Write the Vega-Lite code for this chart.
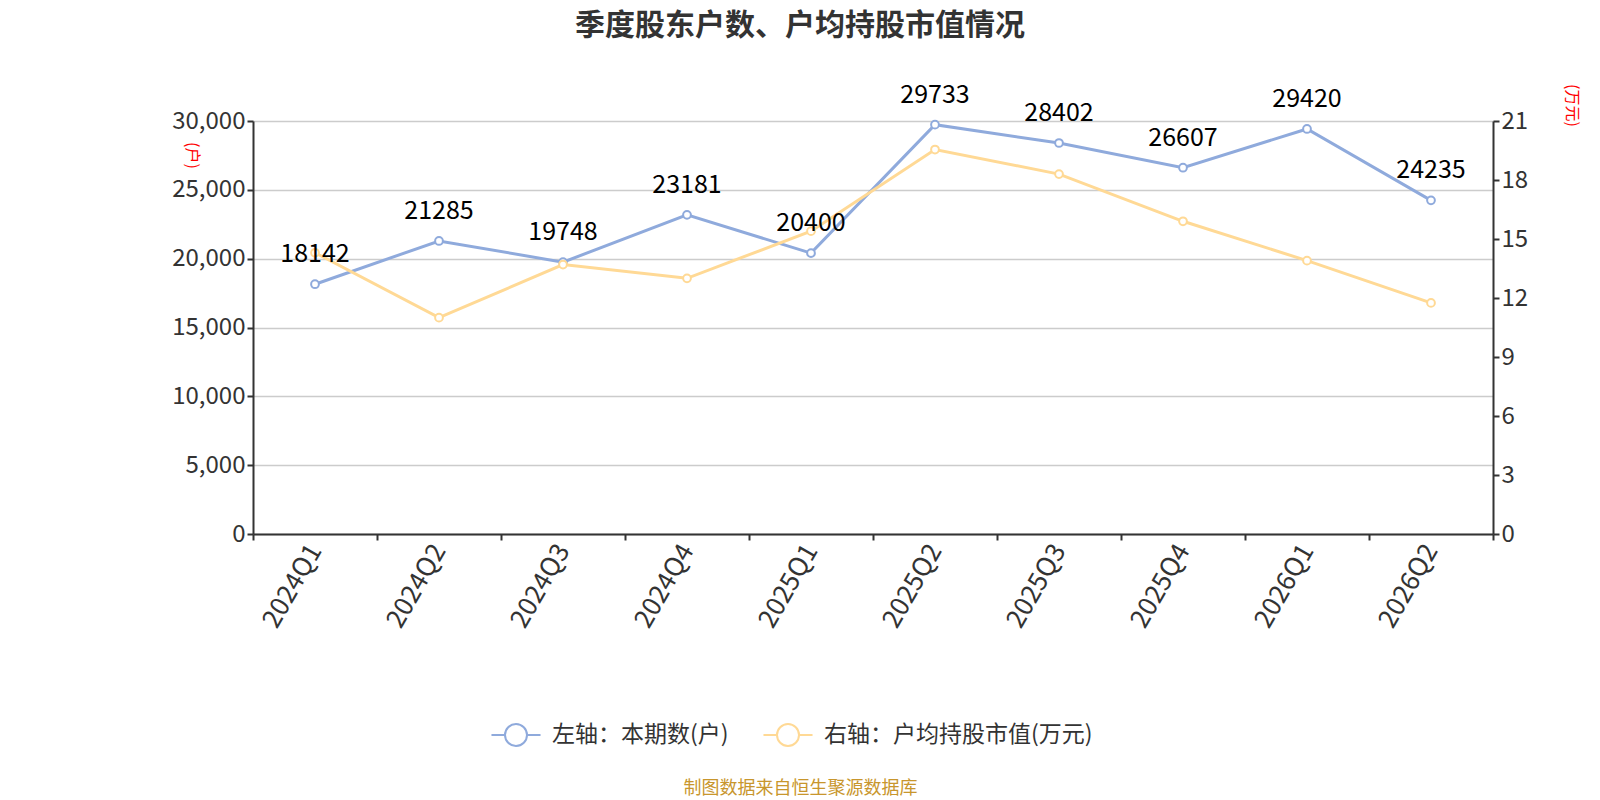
{
  "$schema": "https://vega.github.io/schema/vega-lite/v6.json",
  "width": 1240,
  "height": 413,
  "autosize": {"type": "none"},
  "padding": {"left": 253, "top": 121, "right": 107, "bottom": 266},
  "background": "white",
  "config": {
    "font": "Noto Sans CJK SC",
    "view": {"stroke": null},
    "axis": {
      "labelFont": "Noto Sans CJK SC",
      "labelFontSize": 24,
      "labelColor": "#333333",
      "domainColor": "#333333",
      "domainWidth": 2,
      "tickColor": "#333333",
      "tickWidth": 2,
      "tickSize": 6,
      "gridColor": "#cccccc",
      "gridWidth": 1.5
    }
  },
  "title": {
    "text": "季度股东户数、户均持股市值情况",
    "fontSize": 30,
    "fontWeight": "bold",
    "color": "#333333",
    "anchor": "middle",
    "dx": -73,
    "offset": 42
  },
  "data": {
    "values": [
      {"quarter": "2024Q1", "holders": 18142, "avgValue": 14.3},
      {"quarter": "2024Q2", "holders": 21285, "avgValue": 11.0},
      {"quarter": "2024Q3", "holders": 19748, "avgValue": 13.7},
      {"quarter": "2024Q4", "holders": 23181, "avgValue": 13.0},
      {"quarter": "2025Q1", "holders": 20400, "avgValue": 15.4},
      {"quarter": "2025Q2", "holders": 29733, "avgValue": 19.55},
      {"quarter": "2025Q3", "holders": 28402, "avgValue": 18.3},
      {"quarter": "2025Q4", "holders": 26607, "avgValue": 15.9},
      {"quarter": "2026Q1", "holders": 29420, "avgValue": 13.9},
      {"quarter": "2026Q2", "holders": 24235, "avgValue": 11.75}
    ]
  },
  "encoding": {
    "x": {
      "field": "quarter",
      "type": "ordinal",
      "sort": null,
      "scale": {"paddingInner": 0, "paddingOuter": 0},
      "axis": {
        "labelAngle": -60,
        "labelFontSize": 26,
        "tickBand": "extent",
        "labelPadding": 6,
        "title": "制图数据来自恒生聚源数据库",
        "titleColor": "#C8962D",
        "titleFontSize": 18,
        "titleFontWeight": "normal",
        "titleX": 547,
        "titleY": 254,
        "titleAlign": "center",
        "titleBaseline": "middle"
      }
    },
    "color": {
      "scale": {
        "domain": ["左轴：本期数(户)", "右轴：户均持股市值(万元)"],
        "range": ["#8FAADC", "#FFD995"]
      },
      "legend": {
        "title": null,
        "orient": "none",
        "direction": "horizontal",
        "legendX": 251,
        "legendY": 602,
        "symbolType": "M-2.23,0H-1M1,0H2.23M-1,0A1,1 0 1,1 1,0A1,1 0 1,1 -1,0Z",
        "symbolSize": 484,
        "symbolStrokeWidth": 2,
        "symbolFillColor": "white",
        "labelFontSize": 23,
        "labelColor": "#333333",
        "labelLimit": 500,
        "labelOffset": 24,
        "columnPadding": 30
      }
    }
  },
  "layer": [
    {
      "mark": {
        "type": "line",
        "strokeWidth": 3,
        "point": {"filled": false, "fill": "white", "size": 60, "strokeWidth": 2}
      },
      "encoding": {
        "y": {
          "field": "holders",
          "type": "quantitative",
          "scale": {"domain": [0, 30000]},
          "axis": {
            "values": [0, 5000, 10000, 15000, 20000, 25000, 30000],
            "format": ",.0f",
            "title": "(户)",
            "titleColor": "red",
            "titleFontSize": 16,
            "titleFontWeight": "normal",
            "titleAngle": 90,
            "titleX": -62,
            "titleY": 34,
            "titleAlign": "center",
            "titleBaseline": "middle"
          }
        },
        "color": {"datum": "左轴：本期数(户)"}
      }
    },
    {
      "mark": {
        "type": "line",
        "strokeWidth": 3,
        "point": {"filled": false, "fill": "white", "size": 60, "strokeWidth": 2}
      },
      "encoding": {
        "y": {
          "field": "avgValue",
          "type": "quantitative",
          "scale": {"domain": [0, 21]},
          "axis": {
            "orient": "right",
            "values": [0, 3, 6, 9, 12, 15, 18, 21],
            "format": ".0f",
            "grid": false,
            "title": "(万元)",
            "titleColor": "red",
            "titleFontSize": 16,
            "titleFontWeight": "normal",
            "titleAngle": 90,
            "titleX": 78,
            "titleY": -16,
            "titleAlign": "center",
            "titleBaseline": "middle"
          }
        },
        "color": {"datum": "右轴：户均持股市值(万元)"}
      }
    },
    {
      "mark": {"type": "text", "fontSize": 25, "color": "black", "dy": -22, "baseline": "alphabetic"},
      "encoding": {
        "y": {
          "field": "holders",
          "type": "quantitative",
          "scale": {"domain": [0, 30000]},
          "axis": null
        },
        "text": {"field": "holders", "type": "quantitative", "format": "d"}
      }
    }
  ],
  "resolve": {"scale": {"y": "independent"}}
}
